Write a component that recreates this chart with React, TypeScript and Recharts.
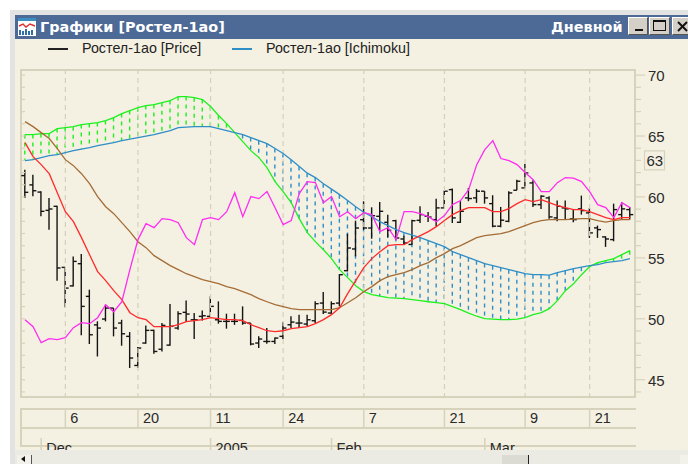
import React from "react";
import { ComposedChart, Bar, Line, XAxis, YAxis, ReferenceLine, Legend } from "recharts";

const dates = [
  "2004-11-29","2004-11-30","2004-12-01","2004-12-02","2004-12-03","2004-12-06","2004-12-07","2004-12-08","2004-12-09","2004-12-10",
  "2004-12-14","2004-12-15","2004-12-16","2004-12-17","2004-12-20","2004-12-21","2004-12-22","2004-12-23","2004-12-24","2004-12-27",
  "2004-12-28","2004-12-29","2004-12-30","2005-01-11","2005-01-12","2005-01-13","2005-01-14","2005-01-17","2005-01-18","2005-01-19",
  "2005-01-20","2005-01-21","2005-01-24","2005-01-25","2005-01-26","2005-01-27","2005-01-28","2005-01-31","2005-02-01","2005-02-02",
  "2005-02-03","2005-02-04","2005-02-07","2005-02-08","2005-02-09","2005-02-10","2005-02-11","2005-02-14","2005-02-15","2005-02-16",
  "2005-02-17","2005-02-18","2005-02-21","2005-02-22","2005-02-24","2005-02-25","2005-02-28","2005-03-01","2005-03-02","2005-03-03",
  "2005-03-04","2005-03-07","2005-03-09","2005-03-10","2005-03-11","2005-03-14","2005-03-15","2005-03-16","2005-03-17","2005-03-18",
  "2005-03-21","2005-03-22","2005-03-23","2005-03-24","2005-03-25","2005-03-28",
];
const opens = [61.75,60.99,60.4,58.9,59.23,54.22,52.7,54.52,51.84,49.5,49.98,50.88,49.65,48.56,46.17,48.01,49.05,47.5,47.84,49.24,50.53,49.92,50.2,50.2,49.92,49.79,49.79,49.87,49.65,48.01,48.14,48.14,48.56,49.51,49.65,49.57,49.84,51.29,50.47,51.29,53.95,55.73,58.13,57.45,58.41,57.92,58.05,56.55,56.1,58.08,58.41,58.14,59.1,60.6,57.92,59.92,59.92,60.47,59.45,57.6,58,60.55,60.74,61.15,59.37,59.92,58.28,59.1,58.2,59.02,58.69,57.46,56.72,56.5,58.55,58.96];
const highs = [62.24,61.83,60.46,59.91,59.28,54.22,55.12,55.31,52.39,49.79,51.15,50.88,49.92,48.91,47.68,49.46,49.1,49.65,51.21,50.61,51.51,50.47,50.69,51.84,51.43,50.42,50.42,51.02,49.65,48.56,49.24,48.47,49.71,50.2,50.33,50.33,51.43,52.2,51.43,53.67,56.98,58.05,59.64,59.15,59.58,58.54,58.13,56.82,58.13,59.23,58.76,59.86,60.52,60.69,59.65,60.74,60.66,60.47,60.14,59.18,60.47,61.42,62.71,61.37,60.14,60.06,59.7,59.7,59.02,60.11,59.1,57.65,56.77,59.45,59.56,59.18];
const lows = [59.91,60.05,58.41,57.31,53.13,50.94,52.66,48.64,47.93,46.91,49.79,48.56,47.79,45.96,45.96,47.95,47.13,47.32,47.79,49.1,49.73,48.34,49.87,50.2,49.6,49.19,49.5,49.51,47.82,47.6,47.95,47.93,48.34,49.24,49.24,49.38,49.65,50.39,50.42,51.02,53.89,55.12,57.31,56.57,57.26,56.68,56.49,56.08,56.08,57.86,57.94,57.6,59.1,57.87,57.87,59.65,59.51,59.45,57.51,57.51,57.92,60.55,60.74,59.18,59.02,58.22,58,58.14,57.92,58.55,56.64,56.64,55.9,56.36,58.2,58.14];
const closes = [60.38,60.51,58.82,59.01,54.17,52.52,54.71,51.02,48.69,49.24,50.88,49.24,48.77,46.78,47.6,49.05,47.32,49.46,49.38,50.42,50.39,49.92,50.25,51.02,49.79,49.79,49.79,49.65,47.93,48.34,48.14,48.42,49.24,49.73,49.65,49.92,51.24,50.55,51.24,53.62,55.81,57.45,57.45,58.46,58.82,57.26,56.63,56.22,58.05,58.55,58.35,59.1,60.47,58.28,58.82,59.87,60.47,59.92,57.6,58.09,60.33,61.29,61.97,59.37,60.06,58.36,59.23,59.02,58.14,58.88,57.05,57.32,56.55,58.96,59.02,58.55];
const tenkan = [64.46,63.31,62.65,61.91,60.35,58.79,57.97,56.66,55.26,53.87,53.13,52.31,51.57,50.5,50.09,49.93,49.35,49.35,49.35,49.52,49.76,49.85,49.93,50.09,50.01,49.93,49.93,49.85,49.52,49.27,49.02,48.94,49.02,49.19,49.27,49.35,49.6,49.93,50.34,50.91,52.06,53.13,54.2,54.94,55.51,56.0,56.08,56.08,56.5,56.82,57.15,57.56,58.06,58.55,58.88,59.12,59.12,59.12,58.79,58.79,59.04,59.45,59.78,59.62,59.78,59.53,59.29,59.12,58.96,58.96,58.79,58.55,58.3,58.14,58.3,58.3];
const kijun = [66.18,65.77,65.28,64.79,63.97,63.06,62.57,61.91,61.09,60.03,59.2,58.63,57.89,57.15,56.33,55.84,55.18,54.77,54.36,54.03,53.7,53.46,53.21,53.05,52.88,52.64,52.47,52.23,51.98,51.65,51.4,51.16,50.99,50.83,50.75,50.75,50.75,50.75,50.75,50.91,51.32,51.73,52.23,52.64,53.13,53.46,53.62,53.79,54.03,54.36,54.61,55.02,55.35,55.76,56.0,56.33,56.66,56.82,56.91,56.99,57.15,57.4,57.64,57.89,58.06,58.14,58.14,58.14,58.18,58.22,58.22,58.06,57.93,58.06,58.14,58.14];
const chikou = [49.93,49.35,48.04,48.37,48.29,48.45,49.27,49.68,49.6,50.09,51.16,50.58,51.4,54.03,56.5,57.81,57.48,58.22,58.14,57.89,56.66,56.08,58.14,58.3,58.14,58.79,60.35,58.38,60.03,59.86,60.44,59.12,57.73,58.06,60.27,61.26,61.18,59.53,60.03,58.38,58.79,58.22,58.71,58.55,57.15,57.48,56.5,58.79,58.79,58.63,58.38,57.97,58.47,59.37,59.7,60.6,62.65,63.88,64.62,63.15,62.98,62.65,62.0,61.42,60.44,60.44,61.17,61.59,61.55,61.26,60.44,59.37,59.12,58.3,59.53,59.12];
const senkouA = [65.12,65.12,65.2,65.2,65.61,65.69,65.77,65.94,66.02,66.1,66.27,66.51,66.84,67.09,67.33,67.5,67.58,67.74,67.91,68.24,68.24,68.15,67.99,67.42,66.68,66.02,65.28,64.54,63.8,63.23,62.41,61.26,60.44,59.53,58.22,57.07,56.33,55.67,54.94,54.03,53.38,52.72,52.23,51.98,51.86,51.73,51.69,51.65,51.57,51.49,51.4,51.32,51.24,50.99,50.75,50.46,50.21,50.01,49.97,49.93,49.93,49.97,50.09,50.34,50.5,50.83,51.49,52.31,52.88,53.62,54.28,54.61,54.77,54.94,55.26,55.59];
const senkouB = [62.98,63.06,63.23,63.39,63.47,63.64,63.8,63.93,64.05,64.21,64.34,64.46,64.62,64.75,64.87,64.99,65.12,65.28,65.44,65.69,65.73,65.77,65.77,65.77,65.61,65.44,65.28,65.12,64.87,64.62,64.38,63.97,63.56,63.06,62.49,61.95,61.59,61.09,60.64,60.19,59.7,59.2,58.75,58.38,57.97,57.64,57.32,57.07,56.86,56.66,56.41,56.17,55.92,55.51,55.26,55.02,54.77,54.53,54.36,54.2,54.03,53.87,53.7,53.62,53.62,53.58,53.79,53.95,54.11,54.24,54.36,54.44,54.61,54.69,54.77,54.94];

const dayTicks = ["2004-12-06","2004-12-20","2005-01-11","2005-01-24","2005-02-07","2005-02-21","2005-03-09","2005-03-21"];
const monthTicks = ["2004-12-01","2005-01-11","2005-02-01","2005-03-01"];
const monthNames = ["Dec","2005","Feb","Mar"];
const priceTicks = [44,45,46,47,48,49,50,51,52,53,54,55,56,57,58,59,60,61,62,63,64,65,66,67,68,69,70];
const lastPrice = 63;
const priceName = "Ростел-1ао [Price]";
const cloudName = "Ростел-1ао [Ichimoku]";
const titleLeft = "Графики [Ростел-1ао]";
const titleRight = "Дневной";

const rows = dates.map((date, i) => ({
  date, open: opens[i], high: highs[i], low: lows[i], close: closes[i],
  tenkan: tenkan[i], kijun: kijun[i], chikou: chikou[i], a: senkouA[i], b: senkouB[i],
}));

const BG = "#f4f1e3";
const FRAME = "#d6d2bc";
const TEXT = "#2a2a2a";
const FONT = '"Liberation Sans", Arial, sans-serif';
const GREEN = "#1ef01e";
const BLUE = "#2f8ec6";
const RED = "#ff2a2a";
const BROWN = "#a56c35";
const MAGENTA = "#ff2cf0";

function OhlcShape(p: any) {
  const { x, y, width, height, payload } = p;
  const cx = x + width / 2;
  const k = height / (payload.high - payload.low || 1);
  const yo = y + (payload.high - payload.open) * k;
  const yc = y + (payload.high - payload.close) * k;
  return (
    <g stroke="#141414" strokeWidth={1.4} fill="none">
      <line x1={cx} x2={cx} y1={y} y2={y + height} />
      <line x1={cx - 3.5} x2={cx} y1={yo} y2={yo} />
      <line x1={cx} x2={cx + 3.5} y1={yc} y2={yc} />
    </g>
  );
}

function HatchShape(p: any) {
  const { x, y, width, height, payload } = p;
  const cx = x + width / 2;
  return (
    <line x1={cx} x2={cx} y1={y} y2={y + height}
      stroke={payload.a >= payload.b ? GREEN : BLUE} strokeWidth={1.4} strokeDasharray="4 4" />
  );
}

function DayTick(p: any) {
  const { x, y, payload } = p;
  return (
    <g>
      <line x1={x} x2={x} y1={y + 10} y2={y + 29} stroke={FRAME} strokeWidth={1.5} />
      <text x={x + 5} y={y + 25} fontSize={14.5} fontFamily={FONT} fill={TEXT}>{String(parseInt(payload.value.slice(8), 10))}</text>
    </g>
  );
}

function MonthTick(p: any) {
  const { x, y, payload } = p;
  const name = monthNames[monthTicks.indexOf(payload.value)];
  const top = y - 20;
  return (
    <g>
      <line x1={x} x2={x} y1={top} y2={top + 19} stroke={FRAME} strokeWidth={1.5} />
      <text x={x + 5} y={top + 15} fontSize={14.5} fontFamily={FONT} fill={TEXT}>{name}</text>
    </g>
  );
}

function RightTick(p: any) {
  const { x, y, payload } = p;
  const v = payload.value;
  const major = v % 5 === 0;
  return (
    <g>
      <line x1={x} x2={x + (major ? 9 : 5)} y1={y} y2={y} stroke={FRAME} strokeWidth={1.2} />
      {major && <text x={x + 12} y={y + 6} fontSize={15} fontFamily={FONT} fill={TEXT}>{v}</text>}
      {v === lastPrice && (
        <g>
          <rect x={x + 8.5} y={y - 9.5} width={20} height={19} fill={BG} stroke={FRAME} strokeWidth={1.2} />
          <text x={x + 10.5} y={y + 5.5} fontSize={15} fontFamily={FONT} fill={TEXT}>{v}</text>
        </g>
      )}
    </g>
  );
}

function LeftTick(p: any) {
  const { x, y } = p;
  return <line x1={x} x2={x + 5} y1={y} y2={y} stroke={FRAME} strokeWidth={1.2} />;
}

function ChartLegend(p: any) {
  const names = [priceName, cloudName];
  const items = names.map((n) => (p.payload || []).find((it: any) => it.value === n)).filter(Boolean);
  const lefts = [48, 232];
  return (
    <div style={{ position: "relative", width: 688, height: 20, fontFamily: FONT, fontSize: 14.3, color: "#222" }}>
      {items.map((it: any, i: number) => (
        <div key={it.value} style={{ position: "absolute", left: lefts[i], top: 0, whiteSpace: "nowrap" }}>
          <span style={{ display: "inline-block", width: 20, height: 1.5, background: it.value === priceName ? "#222" : BLUE, verticalAlign: "middle", marginRight: 14 }} />
          {it.value}
        </div>
      ))}
    </div>
  );
}

const box = (s: React.CSSProperties): React.CSSProperties => ({ position: "absolute", ...s });

function WinButton({ left, width, children }: { left: number; width: number; children: React.ReactNode }) {
  return <div style={box({ left, top: 17, width, height: 18, background: "#d4d0c8", borderTop: "1px solid #fff", borderLeft: "1px solid #fff", borderBottom: "1px solid #555", borderRight: "1px solid #555", boxSizing: "border-box" })}>{children}</div>;
}

export default function App() {
  const pad = { left: 1, right: 2 };
  return (
    <div style={box({ left: 0, top: 0, width: 688, height: 464, background: "#fff", overflow: "hidden" })}>
      <div style={box({ left: 10, top: 10, width: 678, height: 454, background: "#e3e3e3" })} />
      <div style={box({ left: 15, top: 15, width: 673, height: 449, background: BG })} />
      <div style={box({ left: 15, top: 15, width: 673, height: 24, background: "#4d6a96" })} />
      <svg style={box({ left: 18, top: 18 })} width={18} height={18}>
        <rect width={18} height={18} fill="#fff" />
        <rect width={18} height={3} fill="#3a8fc0" />
        <polyline points="1,8 5,6 8,9 12,6 17,8" fill="none" stroke="#e03030" strokeWidth={1.4} />
        <path d="M2 17V12M5 17V13M8 17V11M11 17V13M14 17V12" stroke="#2f6fa8" strokeWidth={2} />
      </svg>
      <div style={box({ left: 40, top: 17, color: "#fff", fontFamily: '"DejaVu Sans", sans-serif', fontWeight: 700, fontSize: 14.4, whiteSpace: "nowrap", lineHeight: "20px" })}>{titleLeft}</div>
      <div style={box({ left: 551, top: 17, color: "#fff", fontFamily: '"DejaVu Sans", sans-serif', fontWeight: 700, fontSize: 14.4, whiteSpace: "nowrap", lineHeight: "20px" })}>{titleRight}</div>
      <WinButton left={628} width={20}><div style={box({ left: 6, top: 11, width: 8, height: 2, background: "#111" })} /></WinButton>
      <WinButton left={649} width={21}><div style={box({ left: 3, top: 2, width: 13, height: 11, border: "1px solid #111", borderTopWidth: 2, boxSizing: "border-box" })} /></WinButton>
      <WinButton left={672} width={21}>
        <svg style={box({ left: 4, top: 3 })} width={12} height={11}><path d="M1 1L10 10M10 1L1 10" stroke="#111" strokeWidth={2} /></svg>
      </WinButton>

      <div style={box({ left: 20, top: 69, width: 616, height: 329, border: `2px solid ${FRAME}`, boxSizing: "border-box" })} />
      <div style={box({ left: 20, top: 408, width: 616, height: 39, borderTop: `2px solid ${FRAME}`, borderBottom: `2px solid ${FRAME}`, boxSizing: "border-box" })} />
      <div style={box({ left: 20, top: 427, width: 616, height: 2, background: FRAME })} />
      <div style={box({ left: 20, top: 408, width: 2, height: 39, background: FRAME })} />

      <div style={box({ left: 0, top: 0 })}>
        <ComposedChart width={688} height={464} data={rows} margin={{ top: 69, right: 0, bottom: 17, left: 15 }}>
          <XAxis xAxisId="main" dataKey="date" hide padding={pad} />
          <XAxis xAxisId="day" dataKey="date" ticks={dayTicks} interval={0} padding={pad} height={30} axisLine={false} tickLine={false} tickSize={0} tickMargin={0} tick={DayTick} />
          <XAxis xAxisId="month" dataKey="date" ticks={monthTicks} interval={0} padding={pad} height={19} axisLine={false} tickLine={false} tickSize={0} tickMargin={0} tick={MonthTick} />
          <YAxis yAxisId="left" orientation="left" width={5} domain={[43.5, 70.5]} allowDataOverflow ticks={priceTicks} interval={0} axisLine={false} tickLine={false} tick={LeftTick} tickSize={0} tickMargin={0} />
          <YAxis yAxisId="right" orientation="right" width={52} domain={[43.5, 70.5]} allowDataOverflow ticks={priceTicks} interval={0} axisLine={false} tickLine={false} tick={RightTick} tickSize={0} tickMargin={0} />
          <Legend verticalAlign="middle" align="center" content={ChartLegend} wrapperStyle={{ left: 0, top: 40, width: 688, height: 20 }} />
          {dayTicks.map((d) => (
            <ReferenceLine key={d} xAxisId="main" yAxisId="right" x={d} stroke="#d4d0bc" strokeWidth={1.2} strokeDasharray="5 4" />
          ))}
          <Bar xAxisId="day" yAxisId="right" dataKey={(d: any) => [Math.min(d.a, d.b), Math.max(d.a, d.b)]} name="cloud-hatch" legendType="none" shape={HatchShape} isAnimationActive={false} />
          <Bar xAxisId="main" yAxisId="right" dataKey={(d: any) => [d.low, d.high]} name={priceName} fill="#222" shape={OhlcShape} isAnimationActive={false} />
          <Line xAxisId="main" yAxisId="right" dataKey="a" name="Senkou A" legendType="none" stroke={GREEN} strokeWidth={1.3} dot={false} isAnimationActive={false} />
          <Line xAxisId="main" yAxisId="right" dataKey="b" name={cloudName} stroke={BLUE} strokeWidth={1.3} dot={false} isAnimationActive={false} />
          <Line xAxisId="main" yAxisId="right" dataKey="kijun" name="Kijun" legendType="none" stroke={BROWN} strokeWidth={1.3} dot={false} isAnimationActive={false} />
          <Line xAxisId="main" yAxisId="right" dataKey="tenkan" name="Tenkan" legendType="none" stroke={RED} strokeWidth={1.3} dot={false} isAnimationActive={false} />
          <Line xAxisId="main" yAxisId="right" dataKey="chikou" name="Chikou" legendType="none" stroke={MAGENTA} strokeWidth={1.3} dot={false} isAnimationActive={false} />
        </ComposedChart>
      </div>

      <div style={box({ left: 15, top: 450, width: 673, height: 14, background: "#ecebe3" })} />
      <div style={box({ left: 17, top: 455, width: 15, height: 9, background: "#f2f1ea", borderRight: "1px solid #555", boxSizing: "border-box" })}>
        <div style={box({ left: 4, top: 1, width: 0, height: 0, borderTop: "3px solid transparent", borderBottom: "3px solid transparent", borderRight: "4px solid #111" })} />
      </div>
      <div style={box({ left: 502, top: 455, width: 27, height: 9, background: "#dcdbd3", borderRight: "1px solid #222", boxSizing: "border-box" })} />
      <div style={box({ left: 680, top: 455, width: 8, height: 9, background: "#f2f1ea" })} />
    </div>
  );
}
